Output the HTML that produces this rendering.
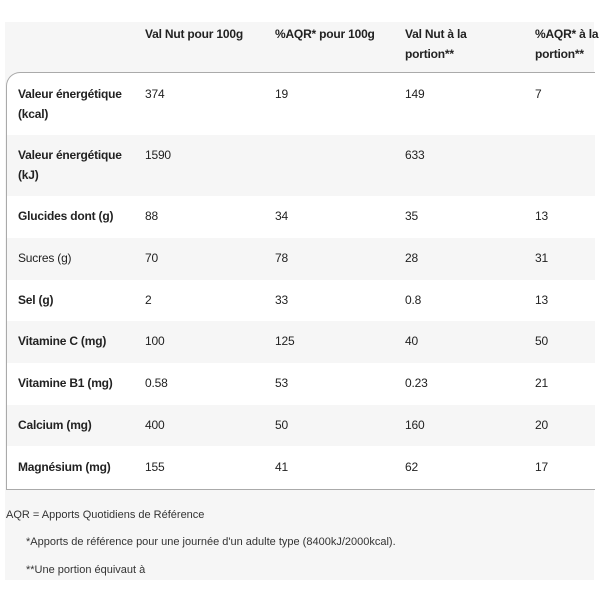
<!DOCTYPE html>
<html><head><style>
body{margin:0;width:600px;height:600px;background:#fff;position:relative;font-family:"Liberation Sans",sans-serif;color:#222;overflow:hidden}
.bg{position:absolute;left:5px;top:22px;width:589px;height:558px;background:#f6f6f6}
.tb{position:absolute;left:6px;top:72px;width:588px;height:416px;border:1px solid #aaa;border-right:none;border-top-left-radius:14px;overflow:hidden;background:#fff}
.r{position:absolute;left:0;width:588px}
.g{background:#f6f6f6}
.t{position:absolute;font-size:12px;line-height:20px;white-space:nowrap;letter-spacing:-0.2px}
.b{font-weight:bold}
.f{position:absolute;font-size:11px;color:#333;white-space:nowrap}
</style></head><body>
<div class="bg"></div>
<div class="t b" style="left:145px;top:24px">Val Nut pour 100g</div>
<div class="t b" style="left:275px;top:24px">%AQR* pour 100g</div>
<div class="t b" style="left:405px;top:24px">Val Nut à la<br>portion**</div>
<div class="t b" style="left:535px;top:24px">%AQR* à la<br>portion**</div>
<div class="tb">
<div class="r" style="top:0;height:62px"></div>
<div class="r g" style="top:62px;height:61px"></div>
<div class="r g" style="top:165px;height:42px"></div>
<div class="r g" style="top:248px;height:42px"></div>
<div class="r g" style="top:332px;height:41px"></div>
</div>
<div class="t b" style="left:18px;top:84px">Valeur énergétique<br>(kcal)</div>
<div class="t" style="left:145px;top:84px">374</div><div class="t" style="left:275px;top:84px">19</div><div class="t" style="left:405px;top:84px">149</div><div class="t" style="left:535px;top:84px">7</div>
<div class="t b" style="left:18px;top:145px">Valeur énergétique<br>(kJ)</div>
<div class="t" style="left:145px;top:145px">1590</div><div class="t" style="left:405px;top:145px">633</div>
<div class="t b" style="left:18px;top:206px">Glucides dont (g)</div>
<div class="t" style="left:145px;top:206px">88</div><div class="t" style="left:275px;top:206px">34</div><div class="t" style="left:405px;top:206px">35</div><div class="t" style="left:535px;top:206px">13</div>
<div class="t" style="left:18px;top:248px">Sucres (g)</div>
<div class="t" style="left:145px;top:248px">70</div><div class="t" style="left:275px;top:248px">78</div><div class="t" style="left:405px;top:248px">28</div><div class="t" style="left:535px;top:248px">31</div>
<div class="t b" style="left:18px;top:290px">Sel (g)</div>
<div class="t" style="left:145px;top:290px">2</div><div class="t" style="left:275px;top:290px">33</div><div class="t" style="left:405px;top:290px">0.8</div><div class="t" style="left:535px;top:290px">13</div>
<div class="t b" style="left:18px;top:331px">Vitamine C (mg)</div>
<div class="t" style="left:145px;top:331px">100</div><div class="t" style="left:275px;top:331px">125</div><div class="t" style="left:405px;top:331px">40</div><div class="t" style="left:535px;top:331px">50</div>
<div class="t b" style="left:18px;top:373px">Vitamine B1 (mg)</div>
<div class="t" style="left:145px;top:373px">0.58</div><div class="t" style="left:275px;top:373px">53</div><div class="t" style="left:405px;top:373px">0.23</div><div class="t" style="left:535px;top:373px">21</div>
<div class="t b" style="left:18px;top:415px">Calcium (mg)</div>
<div class="t" style="left:145px;top:415px">400</div><div class="t" style="left:275px;top:415px">50</div><div class="t" style="left:405px;top:415px">160</div><div class="t" style="left:535px;top:415px">20</div>
<div class="t b" style="left:18px;top:457px">Magnésium (mg)</div>
<div class="t" style="left:145px;top:457px">155</div><div class="t" style="left:275px;top:457px">41</div><div class="t" style="left:405px;top:457px">62</div><div class="t" style="left:535px;top:457px">17</div>
<div class="f" style="left:6px;top:509px">AQR = Apports Quotidiens de Référence</div>
<div class="f" style="left:26px;top:536px">*Apports de référence pour une journée d'un adulte type (8400kJ/2000kcal).</div>
<div class="f" style="left:26px;top:564px">**Une portion équivaut à</div>
</body></html>
